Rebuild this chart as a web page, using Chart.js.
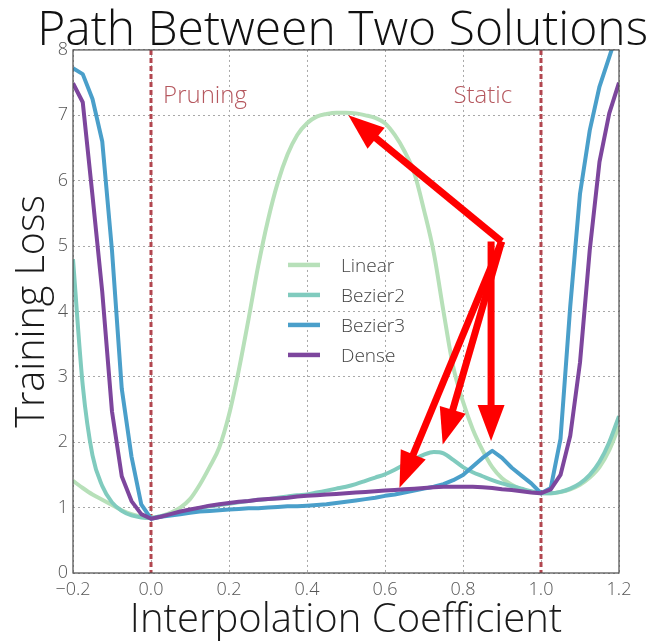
<!DOCTYPE html>
<html><head><meta charset="utf-8">
<script src="https://cdn.jsdelivr.net/npm/chart.js@4.4.1/dist/chart.umd.min.js"></script>
<style>html,body{margin:0;padding:0;background:#fff;}#wrap{width:653px;height:641px;position:relative;}</style>
</head><body><div id="wrap"><canvas id="c" width="653" height="641"></canvas></div>
<script>
// ---- data ----
const xValues = [-0.2,-0.175,-0.15,-0.125,-0.1,-0.075,-0.05,-0.025,0,0.025,0.05,0.075,0.1,0.125,0.15,0.175,0.2,0.225,0.25,0.275,0.3,0.325,0.35,0.375,0.4,0.425,0.45,0.475,0.5,0.525,0.55,0.575,0.6,0.625,0.65,0.675,0.7,0.725,0.75,0.775,0.8,0.825,0.85,0.875,0.9,0.925,0.95,0.975,1.0,1.025,1.05,1.075,1.1,1.125,1.15,1.175,1.2];
const linearLoss = [1.41,1.30,1.20,1.12,1.04,0.96,0.90,0.86,0.85,0.87,0.92,1.00,1.13,1.35,1.62,1.92,2.42,3.10,3.88,4.70,5.40,5.97,6.40,6.70,6.88,6.98,7.02,7.04,7.04,7.03,7.00,6.96,6.88,6.70,6.45,6.12,5.55,4.90,4.00,3.15,2.62,2.20,1.88,1.62,1.45,1.35,1.28,1.24,1.22,1.22,1.24,1.28,1.35,1.46,1.62,1.88,2.25];
const bezier2Loss = [4.80,2.87,1.80,1.33,1.08,0.95,0.88,0.85,0.84,0.87,0.90,0.93,0.96,0.99,1.02,1.04,1.06,1.08,1.10,1.12,1.13,1.15,1.17,1.19,1.20,1.23,1.26,1.29,1.32,1.36,1.41,1.46,1.51,1.58,1.66,1.74,1.81,1.85,1.83,1.73,1.62,1.54,1.48,1.42,1.37,1.33,1.29,1.25,1.22,1.22,1.24,1.29,1.37,1.50,1.70,2.00,2.40];
const bezier3Loss = [7.72,7.63,7.25,6.60,4.93,2.82,1.78,1.05,0.83,0.86,0.88,0.90,0.92,0.94,0.95,0.96,0.97,0.98,0.99,0.99,1.00,1.01,1.02,1.02,1.03,1.04,1.05,1.07,1.09,1.11,1.13,1.15,1.18,1.20,1.23,1.26,1.29,1.32,1.36,1.42,1.50,1.63,1.76,1.87,1.76,1.61,1.49,1.37,1.22,1.30,2.05,4.08,5.80,6.77,7.44,7.89,8.35];
const denseLoss = [7.49,7.20,5.77,4.30,2.47,1.48,1.10,0.90,0.83,0.86,0.90,0.94,0.97,1.00,1.03,1.05,1.07,1.09,1.10,1.12,1.13,1.14,1.15,1.17,1.18,1.19,1.20,1.21,1.22,1.23,1.24,1.25,1.26,1.27,1.28,1.29,1.30,1.31,1.32,1.32,1.32,1.32,1.31,1.30,1.28,1.27,1.25,1.23,1.22,1.28,1.50,2.10,3.22,4.94,6.29,7.03,7.50];
const seriesNames = ['Linear','Bezier2','Bezier3','Dense'];
const xTickValues = [-0.2,0,0.2,0.4,0.6,0.8,1.0,1.2];
const yTickValues = [0,1,2,3,4,5,6,7,8];
const regionLineX = [0, 1];
const regionNames = ['Pruning','Static'];
const regionNameX = [0.031, 0.926];
const regionNameY = [7.31, 7.31];
const arrowTailX = [0.899, 0.899, 0.899, 0.872];
const arrowTailY = [5.07, 5.07, 5.07, 5.07];
const arrowTipX = [0.506, 0.637, 0.748, 0.872];
const arrowTipY = [7.00, 1.305, 1.966, 2.02];

// ---- styles ----
const seriesColors = ['#b7e0b9','#80cbbe','#4a9fca','#7d469d'];
const smoothSeries = [true, true, false, false];
const FONT = '"Open Sans", "DejaVu Sans", sans-serif';
Chart.defaults.font.family = FONT;
const allSeries = [linearLoss, bezier2Loss, bezier3Loss, denseLoss];

const overlay = {
  id: 'overlay',
  beforeDatasetsDraw(chart) {
    const {ctx, chartArea: a, scales: {x, y}} = chart;
    ctx.save();
    ctx.strokeStyle = '#b2464f'; ctx.lineWidth = 3; ctx.setLineDash([5, 3]);
    regionLineX.forEach(v => {
      const px = Math.round(x.getPixelForValue(v));
      ctx.beginPath(); ctx.moveTo(px, a.top); ctx.lineTo(px, a.bottom); ctx.stroke();
    });
    ctx.setLineDash([]);
    ctx.fillStyle = '#b5575e'; ctx.font = '300 24px ' + FONT; ctx.textBaseline = 'middle';
    regionNames.forEach((t, i) => {
      ctx.textAlign = i === 0 ? 'left' : 'right';
      ctx.fillText(t, x.getPixelForValue(regionNameX[i]), y.getPixelForValue(regionNameY[i]) + 1.5);
    });
    ctx.restore();
  },
  afterDatasetsDraw(chart) {
    const {ctx, chartArea: a, scales: {x, y}} = chart;
    ctx.save();
    // arrows
    const headLen = 36, headW = 27, shaftW = 7;
    ctx.fillStyle = '#ff0000'; ctx.strokeStyle = '#ff0000';
    arrowTipX.forEach((tx, i) => {
      const x0 = x.getPixelForValue(arrowTailX[i]), y0 = y.getPixelForValue(arrowTailY[i]);
      const x1 = x.getPixelForValue(tx), y1 = y.getPixelForValue(arrowTipY[i]);
      const dx = x1 - x0, dy = y1 - y0, L = Math.hypot(dx, dy);
      const ux = dx / L, uy = dy / L, px = -uy, py = ux;
      const bx = x1 - ux * headLen, by = y1 - uy * headLen;
      ctx.lineWidth = shaftW; ctx.lineCap = 'butt';
      ctx.beginPath(); ctx.moveTo(x0, y0); ctx.lineTo(bx + ux * 2, by + uy * 2); ctx.stroke();
      ctx.beginPath(); ctx.moveTo(x1, y1);
      ctx.lineTo(bx + px * headW / 2, by + py * headW / 2);
      ctx.lineTo(bx - px * headW / 2, by - py * headW / 2);
      ctx.closePath(); ctx.fill();
    });
    // legend
    const lx = a.left + 215, ly = a.top + 215, gap = 30;
    chart.data.datasets.forEach((ds, i) => {
      const yy = ly + i * gap;
      ctx.strokeStyle = ds.borderColor; ctx.lineWidth = 4.5;
      ctx.beginPath(); ctx.moveTo(lx, yy); ctx.lineTo(lx + 32, yy); ctx.stroke();
      ctx.fillStyle = '#444'; ctx.font = '300 19px ' + FONT; ctx.textAlign = 'left'; ctx.textBaseline = 'middle';
      ctx.fillText(ds.label, lx + 53, yy + 1.4);
    });
    // frame
    ctx.strokeStyle = '#4a4a4a'; ctx.lineWidth = 1.2;
    ctx.strokeRect(a.left, a.top, a.right - a.left, a.bottom - a.top);
    ctx.restore();
  }
};

const fmtX = v => { const s = Number(v).toFixed(1); return s.startsWith('-') ? '\u2212' + s.slice(1) : s; };

new Chart(document.getElementById('c'), {
  type: 'line',
  data: {
    datasets: seriesNames.map((name, i) => ({
      label: name,
      data: xValues.map((xv, k) => ({x: xv, y: allSeries[i][k]})),
      borderColor: seriesColors[i], backgroundColor: seriesColors[i],
      borderWidth: 4, pointRadius: 0, fill: false,
      tension: smoothSeries[i] ? 0.4 : 0,
      cubicInterpolationMode: smoothSeries[i] ? 'monotone' : 'default',
      order: 4 - i, clip: 0, borderJoinStyle: 'round'
    }))
  },
  options: {
    responsive: false, animation: false, devicePixelRatio: 1,
    layout: {padding: {left: 0, right: 5, top: 0, bottom: 0}},
    plugins: {
      legend: {display: false}, tooltip: {enabled: false},
      title: {
        display: true, text: 'Path Between Two Solutions', align: 'end',
        color: '#111', font: {size: 48, weight: '300', lineHeight: 0.78},
        padding: {top: 12.5, bottom: 0}
      }
    },
    scales: {
      x: {
        type: 'linear', min: -0.2, max: 1.2,
        afterBuildTicks: s => { s.ticks = xTickValues.map(v => ({value: v})); },
        afterFit: s => { s.height = 68; },
        ticks: {callback: v => fmtX(v), color: '#555', padding: 6, maxRotation: 0, font: {size: 18, weight: '300'}},
        grid: {color: '#a8a8a8', lineWidth: 1, drawTicks: false},
        border: {display: false, dash: [2, 3]},
        title: {display: true, text: 'Interpolation Coefficient', color: '#1a1a1a', font: {size: 40, weight: '300', lineHeight: 1}, padding: {top: 0, bottom: 0}}
      },
      y: {
        type: 'linear', min: 0, max: 8,
        afterBuildTicks: s => { s.ticks = yTickValues.map(v => ({value: v})); },
        afterFit: s => { s.width = 73; },
        ticks: {color: '#555', padding: 5, font: {size: 18, weight: '300'}},
        grid: {color: '#a8a8a8', lineWidth: 1, drawTicks: false},
        border: {display: false, dash: [2, 3]},
        title: {display: true, text: 'Training Loss', color: '#1a1a1a', font: {size: 39.5, weight: '300', lineHeight: 1}, padding: {top: 12.5, bottom: 0}}
      },
      y2: {
        type: 'linear', position: 'right', min: 0, max: 8, display: true,
        afterFit: s => { s.width = 29; },
        ticks: {display: false}, grid: {display: false}, border: {display: false}
      }
    }
  },
  plugins: [overlay]
});
</script></body></html>
